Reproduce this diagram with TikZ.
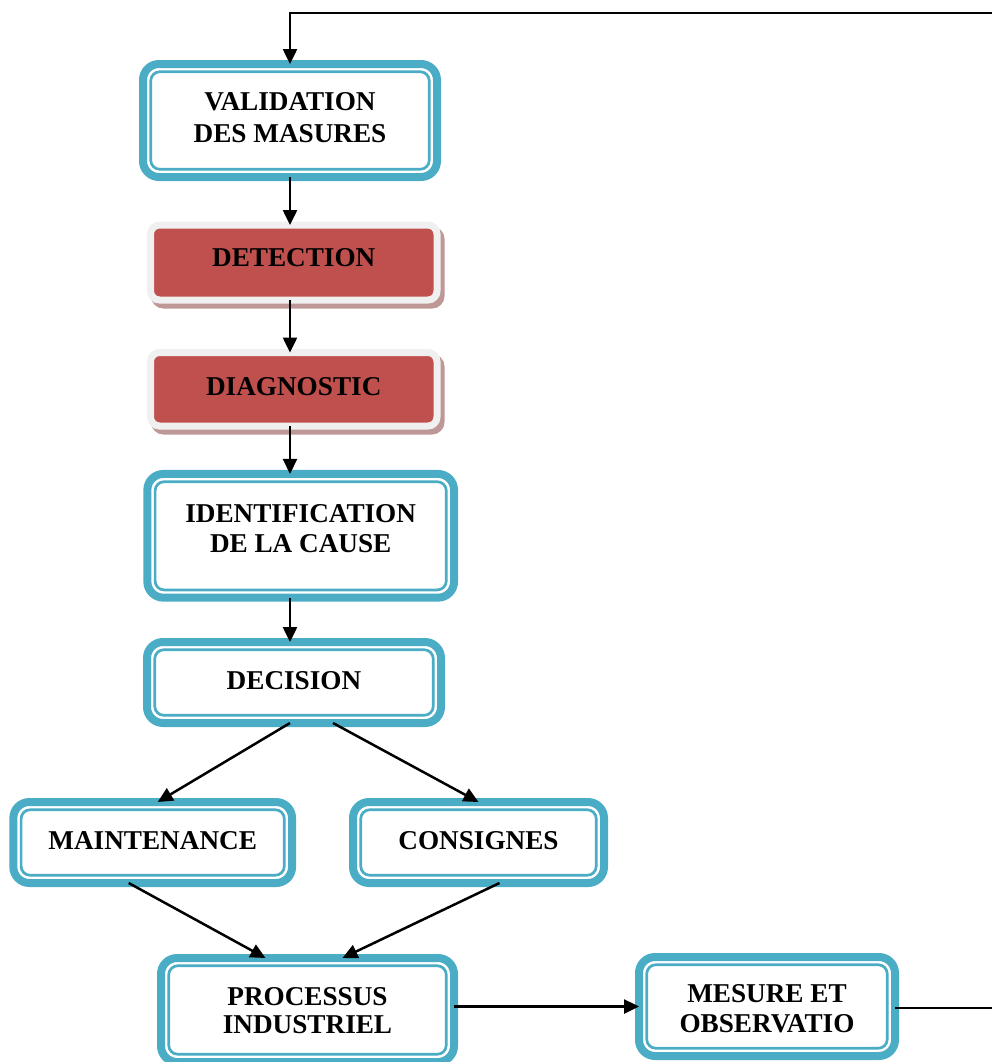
\documentclass[tikz,border=0pt]{standalone}
\usepackage{fontspec}
\setmainfont{Liberation Serif}
\usetikzlibrary{arrows.meta,calc}
\definecolor{teal1}{HTML}{4BACC6}
\definecolor{red1}{HTML}{C0504D}
\definecolor{gray1}{HTML}{F0F0F0}
\definecolor{shadowc}{HTML}{BE9896}
\newcommand\upby[2]{\raisebox{0pt}[\height][\dimexpr\depth+#1\relax]{#2}}
\newcommand\downby[2]{\raisebox{0pt}[\dimexpr\height+#1\relax][\depth]{#2}}
\newcommand\twol[2]{\begin{tabular}{@{}c@{}}#1\\#2\end{tabular}}
\tikzset{
  tbox/.style={draw=teal1, line width=4pt, fill=white, rounded corners=8pt,
    outer sep=0pt, inner sep=0pt,
    font=\fontsize{13.6}{15}\selectfont\bfseries},
  innerframe/.style={draw=teal1, line width=1.35pt, rounded corners=4.5pt},
  rbox/.style={draw=gray1, line width=3.5pt, fill=red1, rounded corners=4.5pt,
    outer sep=0pt, inner sep=0pt,
    preaction={draw=shadowc, fill=shadowc, line width=3.5pt,
      transform canvas={shift={(4,5)}}},
    font=\fontsize{13.6}{15}\selectfont\bfseries},
  arr/.style={-{Triangle[length=7.5pt,width=7pt]}, line width=1.25pt},
  plain/.style={line width=1.25pt}
}
\begin{document}
\begin{tikzpicture}[x=0.5pt,y=-0.5pt]
\useasboundingbox (0,0) rectangle (992,1062);
% boxes
\node[tbox, minimum width=147pt, minimum height=56.5pt] (val) at (290,120.5)
  {\fontsize{13.6}{16}\selectfont\twol{VALIDATION}{DES MASURES}};
\node[rbox, minimum width=143.25pt, minimum height=37.5pt] (det) at (293.75,262.5)
  {\upby{4.5pt}{DETECTION}};
\node[rbox, minimum width=143.25pt, minimum height=36.75pt] (dia) at (293.75,389.25)
  {\upby{3pt}{DIAGNOSTIC}};
\node[tbox, minimum width=153.35pt, minimum height=61.85pt] (ide) at (300.7,535.8)
  {\upby{4pt}{\twol{IDENTIFICATION}{DE LA CAUSE}}};
\node[tbox, minimum width=147pt, minimum height=40.5pt] (dec) at (294,682.5)
  {\upby{1.5pt}{DECISION}};
\node[tbox, minimum width=139.35pt, minimum height=40.5pt] (mai) at (152.7,842.5)
  {\upby{1.5pt}{MAINTENANCE}};
\node[tbox, minimum width=125.5pt, minimum height=40.5pt] (con) at (478.5,842.5)
  {\upby{1.5pt}{CONSIGNES}};
\node[tbox, minimum width=146.5pt, minimum height=52pt] (pro) at (307.5,1010)
  {\downby{4pt}{\fontsize{13.6}{14}\selectfont\twol{PROCESSUS}{INDUSTRIEL}}};
\node[tbox, minimum width=128pt, minimum height=49.5pt] (mes) at (767,1006.5)
  {\downby{5pt}{\twol{MESURE ET}{OBSERVATIO}}};
% inner frames
\foreach \n in {val,ide,dec,mai,con,pro,mes}
  \draw[innerframe] ($(\n.north west)+(7.75,7.75)$) rectangle ($(\n.south east)+(-7.75,-7.75)$);
% connectors
\coordinate (tr) at (995,13);
\coordinate (tl) at (290,13);
\coordinate (br) at (995,1008);
\draw[arr] (tr) -- (tl) -- (val.north);
\draw[arr] (val.south) -- (val.south |- det.north);
\draw[arr] (det.south -| val.south) -- (dia.north -| val.south);
\draw[arr] (dia.south -| val.south) -- (ide.north -| val.south);
\draw[arr] (ide.south -| val.south) -- (dec.north -| val.south);
\draw[arr] ($(dec.south)+(-4,0)$) -- ($(mai.north)+(5,0)$);
\draw[arr] ($(dec.south)+(39,0)$) -- (con.north);
\draw[arr] ($(mai.south)+(-24,0)$) -- ($(pro.north)+(-42,0)$);
\draw[arr] ($(con.south)+(21,0)$) -- ($(pro.north)+(35,0)$);
\draw[arr] (pro.east |- mes.west) -- (mes.west);
\draw[plain] (mes.east |- br) -- (br);
\end{tikzpicture}
\end{document}
